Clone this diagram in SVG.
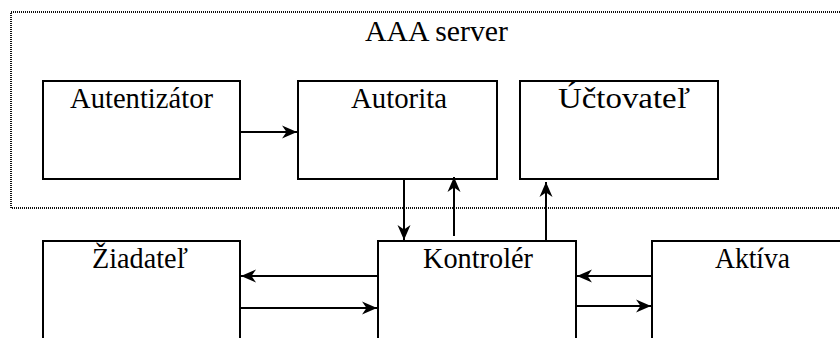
<svg xmlns="http://www.w3.org/2000/svg" width="840" height="338" viewBox="0 0 840 338">
  <style>
    .box { fill: #fff; stroke: #000; stroke-width: 2; }
    .frame { fill: none; stroke: #111; stroke-width: 2; stroke-dasharray: 1 1; }
    .lbl { font-family: "Liberation Serif", "Times New Roman", Times, serif; font-size: 29px; fill: #000; text-anchor: middle; }
    .wire { fill: none; stroke: #000; stroke-width: 2; marker-end: url(#head); }
  </style>
  <defs>
    <marker id="head" markerUnits="userSpaceOnUse" viewBox="0 0 16 16" refX="15" refY="8" markerWidth="16" markerHeight="16" orient="auto">
      <path d="M0,1.5 L15,8 L0,14.5 L4.5,8 z" fill="#000"/>
    </marker>
  </defs>
  <rect width="840" height="338" fill="#fff"/>

  <!-- AAA server boundary -->
  <g id="aaa-server">
    <rect class="frame" x="11" y="12" width="840" height="196"/>
    <text class="lbl" x="436.5" y="41" textLength="143" lengthAdjust="spacingAndGlyphs">AAA server</text>
  </g>

  <g id="autentizator">
    <rect class="box" x="43" y="81" width="197" height="98"/>
    <text class="lbl" x="141.5" y="108" textLength="143" lengthAdjust="spacingAndGlyphs">Autentizátor</text>
  </g>
  <g id="autorita">
    <rect class="box" x="298" y="81" width="199" height="98"/>
    <text class="lbl" x="399" y="108" textLength="96" lengthAdjust="spacingAndGlyphs">Autorita</text>
  </g>
  <g id="uctovatel">
    <rect class="box" x="520" y="81" width="198" height="98"/>
    <text class="lbl" x="624" y="108" textLength="132" lengthAdjust="spacingAndGlyphs">Účtovateľ</text>
  </g>

  <g id="ziadatel">
    <rect class="box" x="43" y="241" width="197" height="120"/>
    <text class="lbl" x="140" y="268" textLength="96" lengthAdjust="spacingAndGlyphs">Žiadateľ</text>
  </g>
  <g id="kontroler">
    <rect class="box" x="378" y="241" width="198" height="120"/>
    <text class="lbl" x="478" y="268" textLength="110" lengthAdjust="spacingAndGlyphs">Kontrolér</text>
  </g>
  <g id="aktiva">
    <rect class="box" x="652" y="241" width="200" height="120"/>
    <text class="lbl" x="752.5" y="268" textLength="75" lengthAdjust="spacingAndGlyphs">Aktíva</text>
  </g>

  <!-- connectors -->
  <g id="connectors">
    <line class="wire" x1="240" y1="132" x2="297" y2="132"/>
    <line class="wire" x1="404" y1="179" x2="404" y2="240"/>
    <line class="wire" x1="454" y1="236" x2="454" y2="177"/>
    <line class="wire" x1="546" y1="241" x2="546" y2="182"/>
    <line class="wire" x1="378" y1="276" x2="241" y2="276"/>
    <line class="wire" x1="240" y1="308" x2="377" y2="308"/>
    <line class="wire" x1="652" y1="276" x2="577" y2="276"/>
    <line class="wire" x1="576" y1="306" x2="651" y2="306"/>
  </g>
</svg>
